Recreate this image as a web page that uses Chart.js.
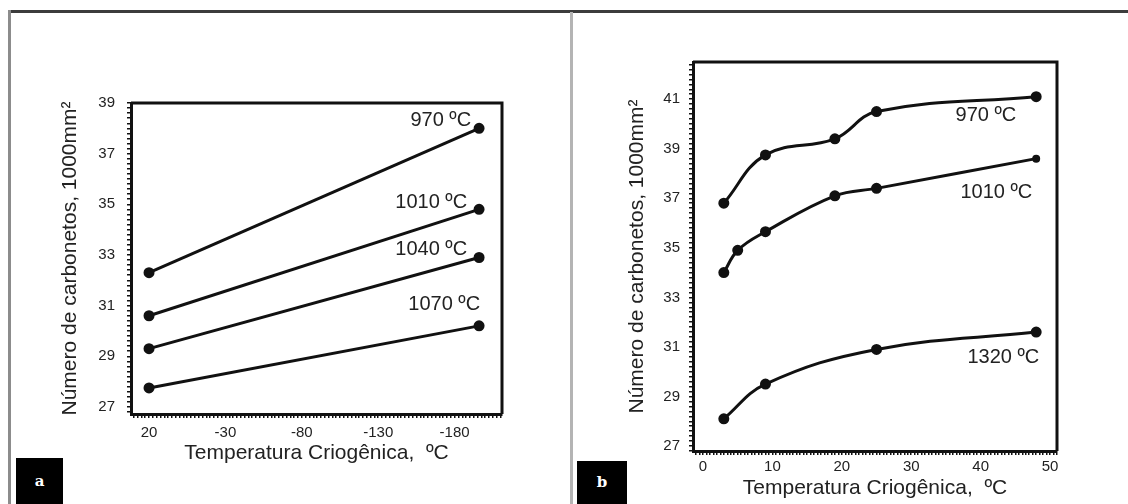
<!DOCTYPE html>
<html>
<head>
<meta charset="utf-8">
<script src="https://cdn.jsdelivr.net/npm/chart.js@4.4.0/dist/chart.umd.min.js"></script>
<style>
  html, body { margin: 0; padding: 0; background: #fff; }
  body { width: 1128px; height: 504px; position: relative; overflow: hidden; }
  .frameTop { position: absolute; left: 8px; top: 10px; width: 1120px; height: 3px; background: #3c3c3c; }
  .frameLeft { position: absolute; left: 8px; top: 10px; width: 3px; height: 494px; background: #8c8c8c; }
  .divider { position: absolute; left: 570px; top: 12px; width: 3px; height: 492px; background: #b4b4b4; }
  .tag { position: absolute; background: #000; color: #fff; font: bold 15px "DejaVu Serif", serif; text-align: center; }
  .panel { position: absolute; top: 14px; }
</style>
</head>
<body>
<div class="frameTop"></div>
<div class="frameLeft"></div>
<div class="divider"></div>
<div class="panel" style="left:12px"><canvas id="graficoA" width="556" height="490"></canvas></div>
<div class="panel" style="left:576px"><canvas id="graficoB" width="552" height="490"></canvas></div>
<div class="tag" style="left:16px;top:458px;width:47px;height:46px;line-height:46px">a</div>
<div class="tag" style="left:577px;top:461px;width:50px;height:43px;line-height:43px">b</div>
<script>
// --- datos painel a ---
const tempA = [20, -196];
const a970 = [32.3, 38.0];
const a1010 = [30.6, 34.8];
const a1040 = [29.3, 32.9];
const a1070 = [27.75, 30.2];
const seriesA = ['970 ºC', '1010 ºC', '1040 ºC', '1070 ºC'];
const xTicksA = [20, -30, -80, -130, -180];
const yTicksA = [27, 29, 31, 33, 35, 37, 39];

// --- datos painel b ---
const temp970 = [3, 9, 19, 25, 48];
const b970 = [36.8, 38.75, 39.4, 40.5, 41.1];
const temp1010 = [3, 5, 9, 19, 25, 48];
const b1010 = [34.0, 34.9, 35.65, 37.1, 37.4, 38.6];
const temp1320 = [3, 9, 25, 48];
const b1320 = [28.1, 29.5, 30.9, 31.6];
const seriesB = ['970 ºC', '1010 ºC', '1320 ºC'];
const xTicksB = [0, 10, 20, 30, 40, 50];
const yTicksB = [27, 29, 31, 33, 35, 37, 39, 41];

const tituloX = 'Temperatura Criogênica,  ºC';
const tituloY = 'Número de carbonetos, 1000mm²';
const fonte = '"Liberation Sans", Arial, sans-serif';
const preto = '#111';

function pares(xs, ys) { return xs.map((x, i) => ({ x: x, y: ys[i] })); }
function rotulo(lista) {
  return v => {
    const r = Math.round(v);
    return (Math.abs(v - r) < 1e-6 && lista.includes(r)) ? String(r) : '';
  };
}

// caixa em volta da area do grafico (topo e direita)
const caixa = {
  id: 'caixa',
  afterDraw(chart) {
    const { ctx, chartArea: c } = chart;
    ctx.save();
    ctx.strokeStyle = preto;
    ctx.lineWidth = 3;
    ctx.beginPath();
    ctx.moveTo(c.left, c.top);
    ctx.lineTo(c.right, c.top);
    ctx.lineTo(c.right, c.bottom);
    ctx.stroke();
    ctx.restore();
  }
};

// nome de cada curva junto ao ultimo ponto
const nomes = {
  id: 'nomes',
  afterDatasetsDraw(chart) {
    const ctx = chart.ctx;
    ctx.save();
    ctx.font = '20px ' + fonte;
    ctx.fillStyle = '#222';
    ctx.textAlign = 'right';
    ctx.textBaseline = 'middle';
    chart.data.datasets.forEach((ds, i) => {
      const pts = chart.getDatasetMeta(i).data;
      const p = pts[pts.length - 1];
      ctx.fillText(ds.label, p.x + ds.desloc[0], p.y + ds.desloc[1]);
    });
    ctx.restore();
  }
};

function serie(label, xs, ys, desloc, raio) {
  return {
    label: label,
    data: pares(xs, ys),
    borderColor: preto,
    backgroundColor: preto,
    borderWidth: 3,
    pointRadius: raio || 4,
    pointHoverRadius: 4,
    desloc: desloc
  };
}

function eixos(o) {
  return {
    x: {
      type: 'linear',
      reverse: o.reverse,
      min: o.xmin, max: o.xmax,
      afterFit: s => { s.height = o.xh; },
      border: { display: true, color: preto, width: 3 },
      grid: { drawOnChartArea: false, color: preto, tickLength: 4, lineWidth: 1.5 },
      ticks: {
        stepSize: o.xstep, autoSkip: false, includeBounds: false, maxRotation: 0,
        padding: o.xpad, color: '#222', font: { family: fonte, size: 15 },
        callback: rotulo(o.xticks)
      },
      title: { display: true, text: tituloX, color: '#222', font: { family: fonte, size: 21 }, padding: { top: 0, bottom: o.xtpad } }
    },
    y: {
      type: 'linear',
      min: o.ymin, max: o.ymax,
      afterFit: s => { s.width = o.yw; },
      border: { display: true, color: preto, width: 3 },
      grid: { drawOnChartArea: false, color: preto, tickLength: 4, lineWidth: 1.5 },
      ticks: {
        stepSize: 0.2, autoSkip: false, includeBounds: false,
        padding: o.ypad, color: '#222', font: { family: fonte, size: 15 },
        callback: rotulo(o.yticks)
      },
      title: { display: true, text: tituloY, color: '#222', font: { family: fonte, size: 21 }, padding: { top: o.ytpad, bottom: 0 } }
    }
  };
}

const comum = {
  responsive: false,
  animation: false,
  plugins: { legend: { display: false }, tooltip: { enabled: false } }
};

new Chart(document.getElementById('graficoA'), {
  type: 'line',
  data: {
    datasets: [
      serie(seriesA[0], tempA, a970, [-8, -8]),
      serie(seriesA[1], tempA, a1010, [-12, -7]),
      serie(seriesA[2], tempA, a1040, [-12, -8]),
      serie(seriesA[3], tempA, a1070, [1, -21])
    ]
  },
  options: Object.assign({}, comum, {
    layout: { padding: { top: 89, right: 66, bottom: 0, left: 0 } },
    elements: { line: { tension: 0 } },
    scales: eixos({
      reverse: true, xmin: -211, xmax: 31.8, xstep: 2.5, xticks: xTicksA, xh: 90, xpad: 6, xtpad: 38,
      ymin: 26.72, ymax: 39, yticks: yTicksA, yw: 119, ypad: 12, ytpad: 46
    })
  }),
  plugins: [caixa, nomes]
});

new Chart(document.getElementById('graficoB'), {
  type: 'line',
  data: {
    datasets: [
      serie(seriesB[0], temp970, b970, [-20, 19]),
      serie(seriesB[1], temp1010, b1010, [-4, 34], [4, 4, 4, 4, 4, 2.5]),
      serie(seriesB[2], temp1320, b1320, [3, 25])
    ]
  },
  options: Object.assign({}, comum, {
    layout: { padding: { top: 48, right: 71, bottom: 0, left: 0 } },
    elements: { line: { tension: 0.4 } },
    scales: eixos({
      reverse: false, xmin: -1.44, xmax: 51, xstep: 0.5, xticks: xTicksB, xh: 53, xpad: 3, xtpad: 3,
      ymin: 26.8, ymax: 42.5, yticks: yTicksB, yw: 117, ypad: 9, ytpad: 49
    })
  }),
  plugins: [caixa, nomes]
});
</script>
</body>
</html>
